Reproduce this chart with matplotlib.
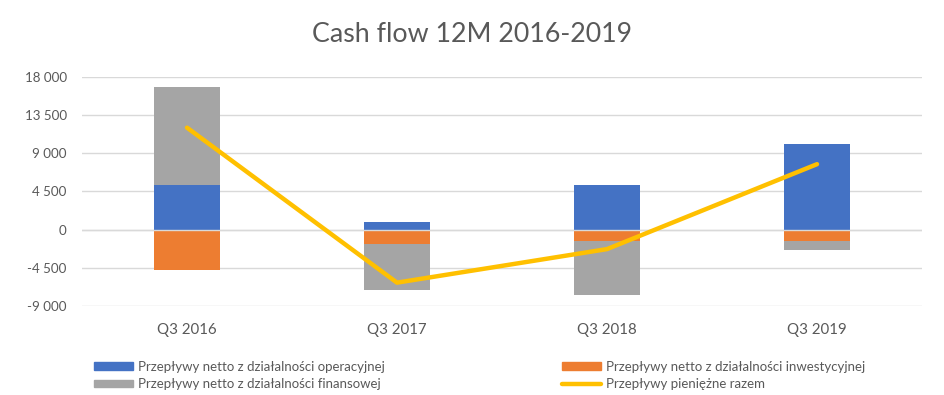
import matplotlib
matplotlib.use("Agg")
import matplotlib.pyplot as plt
from matplotlib.patches import Patch
from matplotlib.lines import Line2D
import numpy as np

plt.rcParams['font.family'] = ['Lato', 'DejaVu Sans']

# data
quarters = ['Q3 2016', 'Q3 2017', 'Q3 2018', 'Q3 2019']
operacyjne = [5250, 900, 5250, 10100]
inwestycyjne = [-4800, -1650, -1300, -1330]
finansowe = [11550, -5500, -6350, -1060]
razem = [12000, -6250, -2300, 7700]

yticks = [-9000, -4500, 0, 4500, 9000, 13500, 18000]
ytick_labels = ['-9 000', '-4 500', '0', '4 500', '9 000', '13 500', '18 000']

names = ['Przepływy netto z działalności operacyjnej',
         'Przepływy netto z działalności inwestycyjnej',
         'Przepływy netto z działalności finansowej',
         'Przepływy pieniężne razem']
colors = ['#4472C4', '#ED7D31', '#A5A5A5']
line_color = '#FFC000'
text_color = '#595959'

fig = plt.figure(figsize=(9.44, 3.95), dpi=100)
ax = fig.add_axes([82/944, 89/395, 840/944, 229.3/395])

x = np.arange(len(quarters))
pos_base = np.zeros(len(quarters))
neg_base = np.zeros(len(quarters))
# excel-style stacking: positives and negatives stack separately
for vals, c in zip([operacyjne, inwestycyjne, finansowe], colors):
    vals = np.array(vals, dtype=float)
    bottom = np.where(vals >= 0, pos_base, neg_base)
    ax.bar(x, vals, bottom=bottom, width=0.314, color=c, zorder=2)
    pos_base = pos_base + np.where(vals >= 0, vals, 0)
    neg_base = neg_base + np.where(vals < 0, vals, 0)

ax.axhline(0, color='#D9D9D9', lw=1.0, zorder=3)
ax.plot(x, razem, color=line_color, lw=3.2, solid_capstyle='round',
        solid_joinstyle='round', zorder=4)

ax.set_xlim(-0.5, len(quarters) - 0.5)
ax.set_ylim(-9000, 18000)
ax.set_yticks(yticks)
ax.set_yticklabels(ytick_labels)
ax.set_xticks(x)
ax.set_xticklabels(quarters)
ax.yaxis.grid(True, color='#D9D9D9', lw=1.0, zorder=0)
ax.set_axisbelow(True)
for s in ax.spines.values():
    s.set_visible(False)
ax.tick_params(length=0, colors=text_color)
ax.tick_params(axis='y', pad=11, labelsize=9.6)
ax.tick_params(axis='x', pad=12, labelsize=10.8)

fig.suptitle('Cash flow 12M 2016-2019', y=1 - 35/395, va='center',
             fontsize=19.3, color=text_color)

h_op = Patch(color=colors[0], label=names[0])
h_inv = Patch(color=colors[1], label=names[1])
h_fin = Patch(color=colors[2], label=names[2])
h_tot = Line2D([0], [0], color=line_color, lw=3.2, solid_capstyle='round', label=names[3])

leg_kw = dict(frameon=False, fontsize=9.5, labelcolor=text_color, handlelength=2.95,
              handleheight=0.45, handletextpad=0.38, labelspacing=0.42,
              borderaxespad=0, borderpad=0, loc='center left')
leg1 = fig.legend(handles=[h_op, h_fin], bbox_to_anchor=(94/944, 1 - 375.5/395), **leg_kw)
leg2 = fig.legend(handles=[h_inv, h_tot], bbox_to_anchor=(562/944, 1 - 375.5/395), **leg_kw)

fig.savefig('out.png', dpi=100)
